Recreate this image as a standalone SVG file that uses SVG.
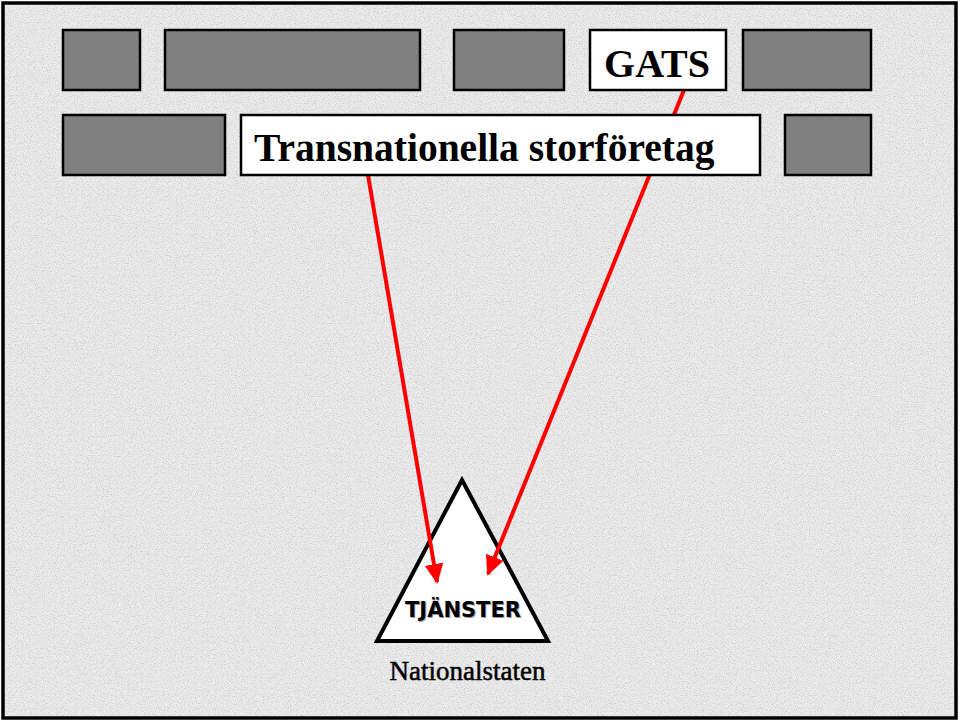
<svg xmlns="http://www.w3.org/2000/svg" width="960" height="721" viewBox="0 0 960 721">
<defs>
<filter id="granite" x="0" y="0" width="100%" height="100%">
<feTurbulence type="fractalNoise" baseFrequency="0.85" numOctaves="3" seed="7" result="n"/>
<feColorMatrix in="n" type="matrix" values="0 0 0 0 0.62  0 0 0 0 0.62  0 0 0 0 0.62  -3 0 0 0 1.65" result="s"/>
<feComposite in="s" in2="SourceGraphic" operator="in" result="c"/>
<feMerge><feMergeNode in="SourceGraphic"/><feMergeNode in="c"/></feMerge>
</filter>
<marker id="ah" viewBox="0 0 10 10" refX="9" refY="5" markerWidth="5" markerHeight="5" orient="auto" markerUnits="strokeWidth">
<path d="M0,0.3 L10,5 L0,9.7 z" fill="#ff0000"/>
</marker>
<style>
.blk{fill:#808080;stroke:#000;stroke-width:2.5}
.lbl{fill:#fff;stroke:#000;stroke-width:2.5}
.serif{font-family:"Liberation Serif","Times New Roman",serif;fill:#000}
.sans{font-family:"DejaVu Sans","Liberation Sans",Arial,sans-serif;font-size:21px;font-weight:bold}
.conn{stroke:#ff0000;stroke-width:4;fill:none}
</style>
</defs>
<rect x="3" y="3" width="953" height="715" fill="#ececec" filter="url(#granite)"/>
<rect x="3" y="3" width="953" height="715" fill="none" stroke="#000" stroke-width="3.5"/>

<g id="tjanster">
<polygon points="462,480 377,641 548,641" fill="#fff" stroke="#000" stroke-width="4" stroke-linejoin="miter"/>
<text class="sans" x="464" y="617.5" text-anchor="middle" fill="#999">TJÄNSTER</text>
<text class="sans" x="463" y="616.5" text-anchor="middle" fill="#000">TJÄNSTER</text>
</g>

<g id="connectors">
<line class="conn" x1="684" y1="90" x2="488" y2="574" marker-end="url(#ah)"/>
<line class="conn" x1="368" y1="175" x2="437" y2="582" marker-end="url(#ah)"/>
</g>

<g id="block1"><rect class="blk" x="63" y="30" width="77" height="60"/></g>
<g id="block2"><rect class="blk" x="165" y="30" width="255" height="60"/></g>
<g id="block3"><rect class="blk" x="454" y="30" width="110" height="60"/></g>
<g id="gats"><rect class="lbl" x="590" y="30" width="136" height="60"/>
<text class="serif" x="657" y="77" font-size="40" font-weight="bold" text-anchor="middle">GATS</text></g>
<g id="block5"><rect class="blk" x="743" y="30" width="128" height="60"/></g>
<g id="block6"><rect class="blk" x="63" y="115" width="162" height="60"/></g>
<g id="transnationella"><rect class="lbl" x="241" y="115" width="519" height="60"/>
<text class="serif" x="254" y="161" font-size="39.5" font-weight="bold">Transnationella storföretag</text></g>
<g id="block7"><rect class="blk" x="785" y="115" width="86" height="60"/></g>

<g id="nationalstaten">
<text class="serif" x="467.5" y="680" font-size="27" text-anchor="middle" stroke="#000" stroke-width="0.5">Nationalstaten</text>
</g>
</svg>
